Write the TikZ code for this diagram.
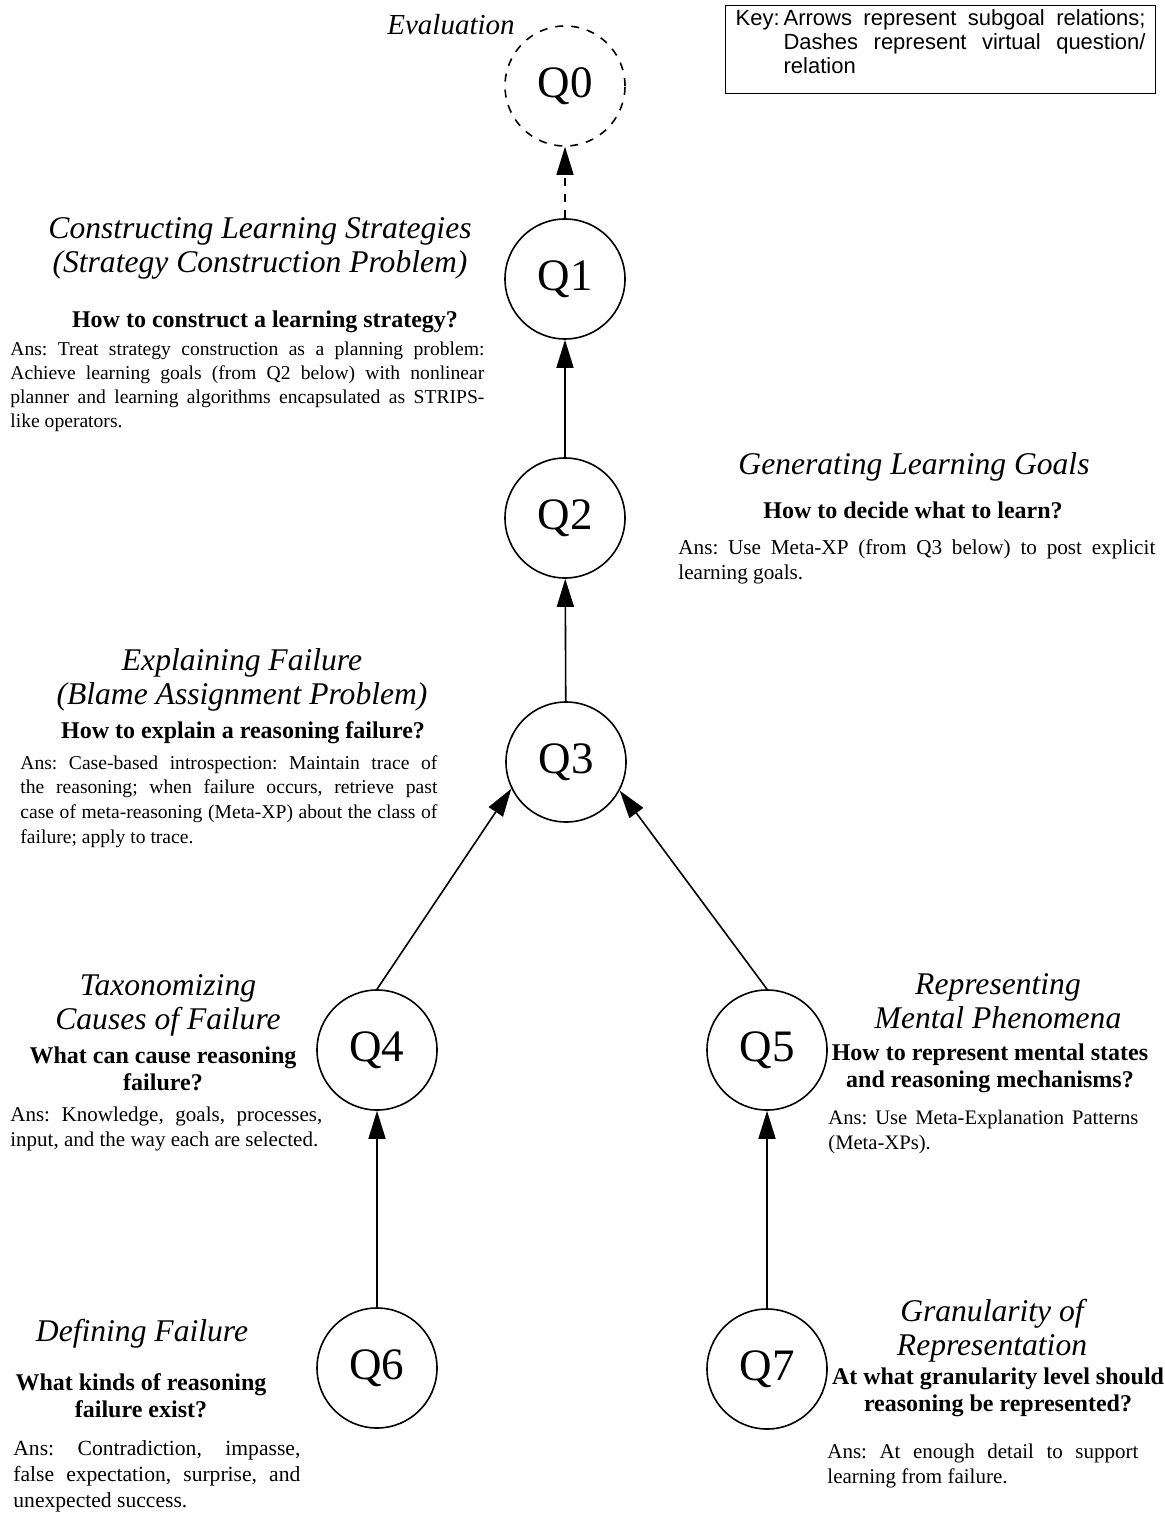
\documentclass[tikz,border=0pt]{standalone}
\usepackage{fontspec}
\setmainfont{Liberation Serif}
\newfontfamily\keyfont{Liberation Sans}
\usetikzlibrary{arrows.meta}
\frenchspacing
\hyphenpenalty=10000
\exhyphenpenalty=10000
\begin{document}
\begin{tikzpicture}[x=0.5pt,y=-0.5pt,
  qnode/.style={circle, draw, line width=0.8pt, minimum size=60pt, inner sep=0pt,
    font=\fontsize{22.5}{24}\selectfont},
  virtual/.style={dash pattern=on 4pt off 4pt},
  ttlstyle/.style={align=center, inner sep=0pt, font=\fontsize{15.8}{17}\selectfont\itshape},
  qststyle/.style={align=center, inner sep=0pt, font=\fontsize{12}{13.5}\selectfont\bfseries},
  ansstyle/.style n args={2}{align=justify, inner sep=0pt, anchor=north west,
    font=\fontsize{#1}{#2}\selectfont},
  subgoal/.style={line width=0.8pt, -{Triangle[length=14pt,width=8.5pt]}},
]
\useasboundingbox (0,0) rectangle (1165,1513);

% question nodes
\node[qnode, virtual] (Q0) at (565,86)   {Q0};
\node[qnode]          (Q1) at (565,279)  {Q1};
\node[qnode]          (Q2) at (565,518)  {Q2};
\node[qnode]          (Q3) at (566,762)  {Q3};
\node[qnode]          (Q4) at (377,1050) {Q4};
\node[qnode]          (Q5) at (767,1050) {Q5};
\node[qnode]          (Q6) at (377,1368) {Q6};
\node[qnode]          (Q7) at (767,1369) {Q7};

% subgoal relations
\draw[subgoal, virtual] (Q1) -- (Q0);
\draw[subgoal] (Q2) -- (Q1);
\draw[subgoal] (Q3) -- (Q2);
\draw[subgoal] (Q4.north) -- (Q3.206);
\draw[subgoal] (Q5.north) -- (Q3.-28);
\draw[subgoal] (Q6) -- (Q4);
\draw[subgoal] (Q7) -- (Q5);

% key
\node[draw, line width=0.6pt, anchor=north west, inner xsep=5pt, inner ysep=0pt,
  text height=10pt, text depth=34pt, font=\keyfont\fontsize{11}{12}\selectfont] (key) at (725,5)
  {\makebox[24pt][l]{Key:}\parbox[t]{181pt}{Arrows represent subgoal relations;\linebreak
   Dashes represent virtual question/\linebreak relation}};

% Q0
\node[ttlstyle, font=\fontsize{14.5}{17}\selectfont\itshape] (t0) at (451,25) {Evaluation};

% Q1
\node[ttlstyle] (t1) at (260,248) {Constructing Learning Strategies\\(Strategy Construction Problem)};
\node[qststyle] (b1) at (265,322) {How to construct a learning strategy?};
\node[ansstyle={9.8}{12}, text width=237pt] (a1) at (10,342)
  {Ans: Treat strategy construction as a planning problem:\linebreak
   Achieve learning goals (from Q2 below) with nonlinear\linebreak
   planner and learning algorithms encapsulated as STRIPS-\linebreak
   like operators.};

% Q2
\node[ttlstyle] (t2) at (914,467) {Generating Learning Goals};
\node[qststyle] (b2) at (913,510) {How to decide what to learn?};
\node[ansstyle={10.6}{12.8}, text width=238.5pt] (a2) at (678,539)
  {Ans: Use Meta-XP (from Q3 below) to post explicit\linebreak
   learning goals.};

% Q3
\node[ttlstyle] (t3) at (242,680) {Explaining Failure\\(Blame Assignment Problem)};
\node[qststyle] (b3) at (243,733) {How to explain a reasoning failure?};
\node[ansstyle={9.8}{12.3}, text width=208.5pt] (a3) at (20,755)
  {Ans: Case-based introspection: Maintain trace of\linebreak
   the reasoning; when failure occurs, retrieve past\linebreak
   case of meta-reasoning (Meta-XP) about the class of\linebreak
   failure; apply to trace.};

% Q4
\node[ttlstyle] (t4) at (168,1005) {Taxonomizing\\Causes of Failure};
\node[qststyle] (b4) at (163,1069) {What can cause reasoning\\failure?};
\node[ansstyle={10.5}{12.5}, text width=156pt] (a4) at (10,1107)
  {Ans: Knowledge, goals, processes,\linebreak
   input, and the way each are selected.};

% Q5
\node[ttlstyle] (t5) at (998,1001) {Representing\\Mental Phenomena};
\node[qststyle] (b5) at (990,1068) {How to represent mental states\\and reasoning mechanisms?};
\node[ansstyle={10.3}{12.2}, text width=155pt] (a5) at (828,1110)
  {Ans: Use Meta-Explanation Patterns\linebreak
   (Meta-XPs).};

% Q6
\node[ttlstyle] (t6) at (142,1334) {Defining Failure};
\node[qststyle] (b6) at (141,1396) {What kinds of reasoning\\failure exist?};
\node[ansstyle={10.8}{13}, text width=143.5pt] (a6) at (13,1440)
  {Ans: Contradiction, impasse,\linebreak
   false expectation, surprise, and\linebreak
   unexpected success.};

% Q7
\node[ttlstyle] (t7) at (992,1331) {Granularity of\\Representation};
\node[qststyle] (b7) at (998,1392) {At what granularity level should\\reasoning be represented?};
\node[ansstyle={10.5}{12.5}, text width=155.5pt] (a7) at (827,1444)
  {Ans: At enough detail to support\linebreak
   learning from failure.};
\end{tikzpicture}
\end{document}
